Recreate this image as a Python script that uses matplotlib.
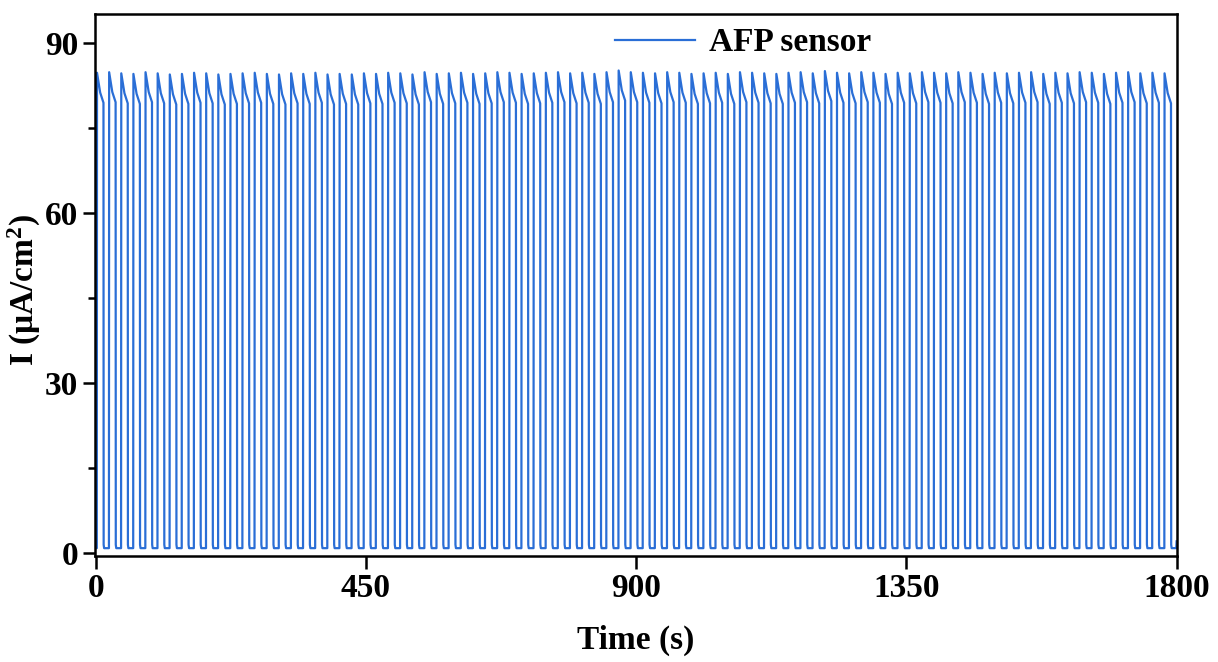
import numpy as np
import matplotlib
matplotlib.use("Agg")
import matplotlib.pyplot as plt

# light on/off protocol
first_on = 2.0        # s, first light-on
period = 20.2         # s, one on/off cycle
on_time = 11.4        # s, light on
baseline = 0.8        # uA/cm2, dark current

# peak photocurrent of each cycle (uA/cm2)
peaks = [84.8, 84.9, 84.7, 84.6, 84.9, 84.7, 84.5, 84.6, 84.8, 84.7,
         84.5, 84.6, 84.7, 84.8, 84.6, 84.5, 84.7, 84.6, 84.8, 84.5,
         84.6, 84.5, 84.7, 84.6, 84.8, 84.7, 84.5, 84.9, 84.6, 84.7,
         84.8, 84.6, 84.7, 84.9, 84.8, 84.6, 84.7, 84.8, 84.9, 84.7,
         84.8, 84.6, 84.9, 85.2, 84.9, 84.8, 84.7, 84.9, 84.8, 84.6,
         84.7, 84.8, 84.6, 84.9, 84.8, 84.7, 84.6, 84.8, 84.9, 84.7,
         85.1, 84.8, 84.7, 84.9, 84.8, 84.6, 84.8, 84.7, 84.9, 84.8,
         84.7, 84.9, 84.8, 84.6, 84.8, 84.7, 84.8, 84.9, 84.6, 84.8,
         84.7, 84.9, 84.8, 84.6, 84.8, 84.9, 84.7, 84.8, 84.7]

# shape of one light-on step: time after switch-on, drop below the peak
shape_t = [0.35, 5.6, 11.1]
shape_drop = [0.0, 3.5, 5.3]

t = [0.0]
y = [baseline]
for k, p in enumerate(peaks):
    t0 = first_on + k * period
    t.append(t0)
    y.append(baseline)
    for dt, d in zip(shape_t, shape_drop):
        t.append(t0 + dt)
        y.append(p - d)
    t.append(t0 + on_time)
    y.append(baseline + 0.6)
    t.append(t0 + on_time + 0.8)
    y.append(baseline)
t.append(1799.5)
y.append(baseline)
t.append(1800)
y.append(2.0)

plt.rcParams['font.family'] = ['Liberation Serif', 'DejaVu Serif']
plt.rcParams['font.weight'] = 'bold'
plt.rcParams['mathtext.fontset'] = 'custom'
plt.rcParams['mathtext.rm'] = 'Liberation Serif:bold'
plt.rcParams['mathtext.it'] = 'Liberation Serif:bold'

fig = plt.figure(figsize=(12.18, 6.62), dpi=100)
ax = fig.add_axes([0.078, 0.160, 0.888, 0.819])

ax.plot(t, y, color='#2a6ed6', lw=1.6, label='AFP sensor')

ax.set_xlim(-1, 1800)
ax.set_ylim(-0.6, 95.2)
ax.set_xticks([0, 450, 900, 1350, 1800])
ax.set_yticks([0, 30, 60, 90])
ax.set_yticks([15, 45, 75], minor=True)

ax.tick_params(axis='both', which='major', direction='out', length=9, width=1.8,
               labelsize=24, pad=3)
ax.tick_params(axis='y', which='minor', direction='out', length=5, width=1.8)
for s in ax.spines.values():
    s.set_linewidth(1.8)

ax.set_xlabel('Time (s)', fontsize=24, fontweight='bold', labelpad=15)
ax.set_ylabel('I (μA/cm$^2$)', fontsize=24, fontweight='bold')
ax.yaxis.set_label_coords(-0.048, 0.49)

ax.legend(loc='upper left', bbox_to_anchor=(0.481, 0.975), frameon=False,
          fontsize=24, handlelength=2.4, handletextpad=0.4,
          borderpad=0, borderaxespad=0)

fig.savefig('out.png', dpi=100)
